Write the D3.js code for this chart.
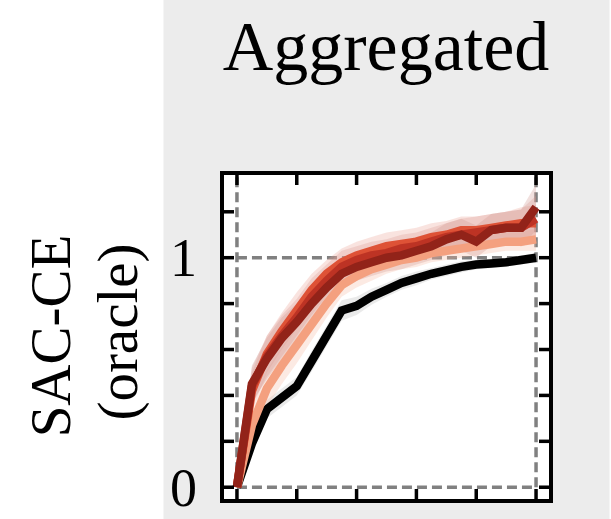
<!DOCTYPE html>
<html>
<head>
<meta charset="utf-8">
<script src="https://cdn.jsdelivr.net/npm/d3@7"></script>
<style>
  html, body { margin: 0; padding: 0; background: #fff; }
  svg { display: block; }
  text { font-family: "Liberation Serif", "DejaVu Serif", serif; fill: #000; }
</style>
</head>
<body>
<svg id="chart" width="611" height="519"></svg>
<script>
// ---------------------------------------------
//  Data
// ---------------------------------------------

const title = "Aggregated";
const yLabelLines = ["SAC-CE", "(oracle)"];
const steps = d3.range(0, 21);
const xTicks = [0, 4, 8, 12, 16, 20];
const yTicks = [0, 0.2, 0.4, 0.6, 0.8, 1.0, 1.2];
const yTickLabels = { 0: "0", 1: "1" };
const refLevels = [0, 1];
const refSteps = [0, 20];

// oracle reference curve (black)
const oracleMean = [0, 0.19, 0.34, 0.39, 0.44, 0.55, 0.66, 0.77, 0.79, 0.83, 0.86,
                    0.89, 0.91, 0.93, 0.945, 0.96, 0.97, 0.975, 0.98, 0.99, 1.0];
const oracleStd = [0, 0.03, 0.04, 0.04, 0.04, 0.045, 0.045, 0.045, 0.04, 0.035, 0.03,
                   0.03, 0.03, 0.025, 0.025, 0.025, 0.02, 0.02, 0.02, 0.02, 0.02];

// red family, light -> dark
const salmonMean = [0, 0.27, 0.43, 0.53, 0.62, 0.71, 0.80, 0.88, 0.92, 0.95, 0.97,
                    0.99, 1.00, 1.02, 1.03, 1.04, 1.05, 1.06, 1.07, 1.07, 1.08];
const salmonStd = [0, 0.07, 0.08, 0.08, 0.08, 0.07, 0.06, 0.05, 0.05, 0.05, 0.04,
                   0.04, 0.04, 0.04, 0.04, 0.04, 0.04, 0.04, 0.04, 0.04, 0.05];

const orangeMean = [0, 0.42, 0.58, 0.68, 0.77, 0.86, 0.93, 0.98, 1.01, 1.03, 1.05,
                    1.06, 1.07, 1.09, 1.10, 1.12, 1.12, 1.13, 1.14, 1.15, 1.15];
const orangeStd = [0, 0.08, 0.08, 0.08, 0.08, 0.07, 0.06, 0.06, 0.06, 0.06, 0.06,
                   0.06, 0.06, 0.06, 0.06, 0.06, 0.06, 0.06, 0.06, 0.07, 0.08];

const redMean = [0, 0.44, 0.57, 0.66, 0.74, 0.83, 0.90, 0.96, 0.99, 1.01, 1.02,
                 1.04, 1.05, 1.07, 1.09, 1.10, 1.11, 1.12, 1.13, 1.13, 1.17];
const redStd = [0, 0.08, 0.09, 0.09, 0.08, 0.08, 0.07, 0.07, 0.06, 0.06, 0.06,
                0.06, 0.06, 0.06, 0.06, 0.07, 0.07, 0.07, 0.07, 0.08, 0.1];

const darkMean = [0, 0.45, 0.56, 0.65, 0.72, 0.80, 0.87, 0.93, 0.96, 0.98, 1.00,
                  1.01, 1.03, 1.05, 1.08, 1.10, 1.07, 1.12, 1.13, 1.13, 1.22];
const darkStd = [0, 0.08, 0.09, 0.09, 0.08, 0.08, 0.07, 0.07, 0.06, 0.06, 0.06,
                 0.06, 0.06, 0.06, 0.07, 0.07, 0.07, 0.07, 0.07, 0.08, 0.1];

// ---------------------------------------------
//  Layout
// ---------------------------------------------

const svg = d3.select("#chart");
const W = 611, H = 519;
const frame = { left: 222, right: 551, top: 173, bottom: 501 };

const x = d3.scaleLinear().domain([-1, 21]).range([frame.left, frame.right]);
const y = d3.scaleLinear().domain([-0.06, 1.369]).range([frame.bottom, frame.top]);

// grey facet panel
svg.append("rect")
  .attr("x", 163.5).attr("y", -6)
  .attr("width", 446).attr("height", H + 12)
  .attr("rx", 5)
  .attr("fill", "#ececec");

svg.append("text")
  .attr("x", 386).attr("y", 70)
  .attr("text-anchor", "middle")
  .attr("font-size", 70)
  .text(title);

// y label, two rotated lines
svg.selectAll(".ylab")
  .data(yLabelLines)
  .enter().append("text")
  .attr("class", "ylab")
  .attr("transform", (d, i) => `translate(${i === 0 ? 70 : 137},${i === 0 ? 336 : 332}) rotate(-90)`)
  .attr("text-anchor", "middle")
  .attr("font-size", 57)
  .text(d => d);

// plot area
svg.append("rect")
  .attr("x", frame.left).attr("y", frame.top)
  .attr("width", frame.right - frame.left)
  .attr("height", frame.bottom - frame.top)
  .attr("fill", "#fff");

svg.append("clipPath").attr("id", "plotclip")
  .append("rect")
  .attr("x", frame.left).attr("y", frame.top)
  .attr("width", frame.right - frame.left)
  .attr("height", frame.bottom - frame.top);

const plot = svg.append("g").attr("clip-path", "url(#plotclip)");

// dashed reference lines
plot.selectAll(".hline")
  .data(refLevels)
  .enter().append("line")
  .attr("x1", x(0)).attr("x2", x(20))
  .attr("y1", d => y(d)).attr("y2", d => y(d))
  .attr("stroke", "#808080").attr("stroke-width", 3.5)
  .attr("stroke-dasharray", "10,5");

plot.selectAll(".vline")
  .data(refSteps)
  .enter().append("line")
  .attr("x1", d => x(d)).attr("x2", d => x(d))
  .attr("y1", y(0)).attr("y2", frame.top)
  .attr("stroke", "#808080").attr("stroke-width", 3.5)
  .attr("stroke-dasharray", "10,5");

// ---------------------------------------------
//  Curves
// ---------------------------------------------

const series = [
  { mean: oracleMean, std: oracleStd, color: "#000000", band: "#b8b8b8" },
  { mean: salmonMean, std: salmonStd, color: "#f4a07f", band: "#f6b9a2" },
  { mean: orangeMean, std: orangeStd, color: "#de5236", band: "#eaa394" },
  { mean: redMean, std: redStd, color: "#bd3324", band: "#dc9c94" },
  { mean: darkMean, std: darkStd, color: "#922319", band: "#d29891" }
];

const area = d3.area()
  .x(d => x(d.step))
  .y0(d => y(d.mean - d.std))
  .y1(d => y(d.mean + d.std));

const line = d3.line()
  .x(d => x(d.step))
  .y(d => y(d.mean));

function rows(s) {
  return steps.map((step, i) => ({ step: step, mean: s.mean[i], std: s.std[i] }));
}

series.forEach(s => {
  plot.append("path")
    .datum(rows(s))
    .attr("d", area)
    .attr("fill", s.band)
    .attr("fill-opacity", 0.3);
});

series.forEach(s => {
  plot.append("path")
    .datum(rows(s))
    .attr("d", line)
    .attr("fill", "none")
    .attr("stroke", s.color)
    .attr("stroke-width", 8.5)
    .attr("stroke-linejoin", "miter");
});

// ---------------------------------------------
//  Frame + inward ticks
// ---------------------------------------------

const tickLen = 12;
const tickStyle = sel => sel.attr("stroke", "#000").attr("stroke-width", 3.5);

svg.selectAll(".yl").data(yTicks).enter().append("line")
  .attr("x1", frame.left).attr("x2", frame.left + tickLen)
  .attr("y1", d => y(d)).attr("y2", d => y(d)).call(tickStyle);
svg.selectAll(".yr").data(yTicks).enter().append("line")
  .attr("x1", frame.right).attr("x2", frame.right - tickLen)
  .attr("y1", d => y(d)).attr("y2", d => y(d)).call(tickStyle);
svg.selectAll(".xt").data(xTicks).enter().append("line")
  .attr("x1", d => x(d)).attr("x2", d => x(d))
  .attr("y1", frame.top).attr("y2", frame.top + tickLen).call(tickStyle);
svg.selectAll(".xb").data(xTicks).enter().append("line")
  .attr("x1", d => x(d)).attr("x2", d => x(d))
  .attr("y1", frame.bottom).attr("y2", frame.bottom - tickLen).call(tickStyle);

svg.append("rect")
  .attr("x", frame.left).attr("y", frame.top)
  .attr("width", frame.right - frame.left)
  .attr("height", frame.bottom - frame.top)
  .attr("fill", "none")
  .attr("stroke", "#000").attr("stroke-width", 4);

svg.selectAll(".ytl")
  .data(yTicks.filter(t => yTickLabels[t] !== undefined))
  .enter().append("text")
  .attr("x", 197)
  .attr("y", d => y(d))
  .attr("dy", "0.34em")
  .attr("text-anchor", "end")
  .attr("font-size", 54)
  .text(d => yTickLabels[d]);
</script>
</body>
</html>
